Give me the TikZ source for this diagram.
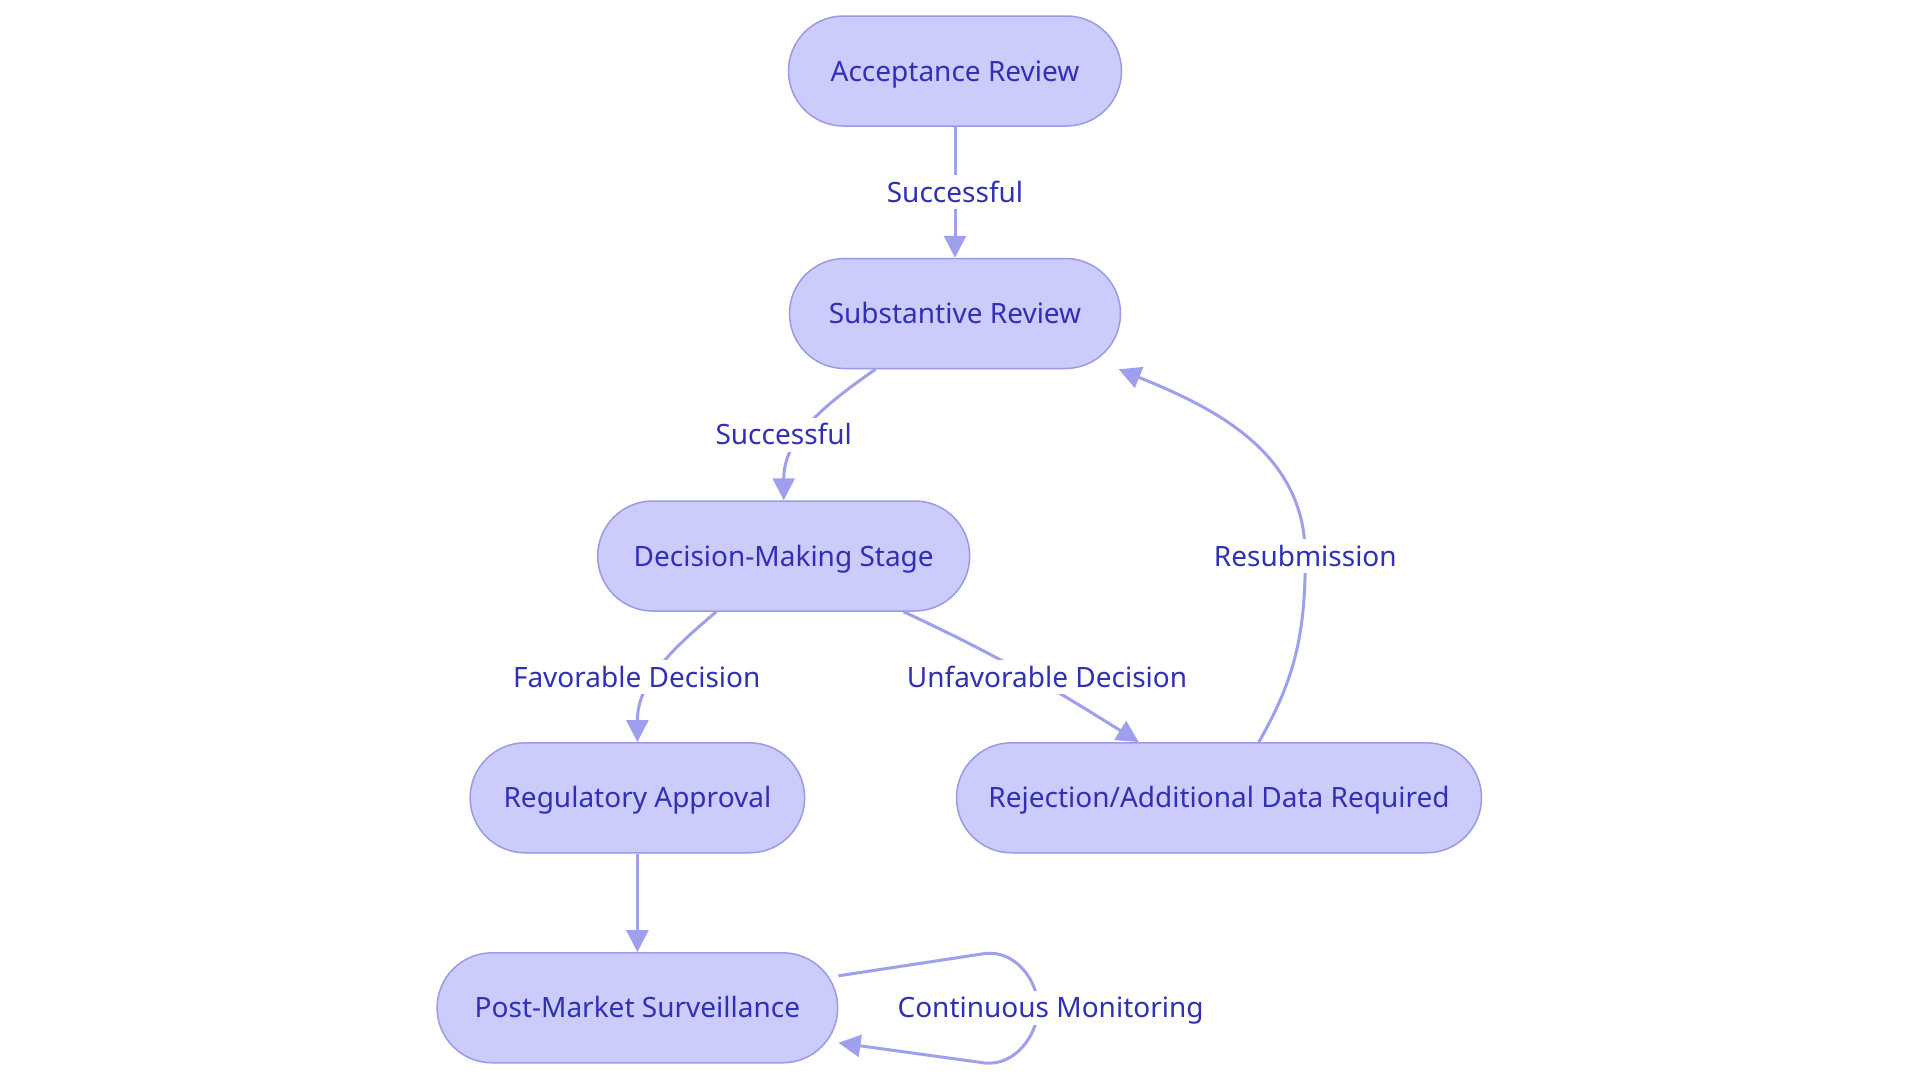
\documentclass[tikz,border=0pt]{standalone}
\usepackage{fontspec}
\setmainfont{Noto Sans}
\usetikzlibrary{arrows.meta,calc}
\definecolor{nfill}{HTML}{CBCBFC}
\definecolor{nbord}{HTML}{9A9AE6}
\definecolor{ntext}{HTML}{3030B4}
\definecolor{eline}{HTML}{9EA0EE}
\tikzset{
  stage/.style={draw=nbord, line width=1.5pt, fill=nfill, text=ntext,
    rounded corners=55pt, minimum height=110pt, inner sep=0pt,
    text height=20pt, text depth=0pt,
    font=\fontsize{28}{34}\selectfont},
  flow/.style={draw=eline, line width=3pt, -{Triangle[length=22pt,width=22pt]}},
  lbl/.style={fill=white, text=ntext, inner xsep=2pt, inner ysep=7pt,
    text height=20pt, text depth=0pt,
    font=\fontsize{28}{34}\selectfont}
}
\begin{document}
\begin{tikzpicture}[x=1pt,y=-1pt]
\useasboundingbox[fill=white] (0,0) rectangle (1920,1080);
\node[stage, minimum width=333pt] (acc) at (955,71) {Acceptance Review};
\node[stage, minimum width=331pt] (sub) at (955,313.5) {Substantive Review};
\node[stage, minimum width=372pt] (dec) at (783.7,556) {Decision-Making Stage};
\node[stage, minimum width=334.5pt] (reg) at (637.4,797.8) {Regulatory Approval};
\node[stage, minimum width=525pt] (rej) at (1219,797.8) {Rejection/Additional Data Required};
\node[stage, minimum width=400.6pt] (post) at (637.4,1007.8) {Post-Market Surveillance};

\draw[flow] (acc) -- (sub);
\draw[flow] ([xshift=-79.5pt]sub.south) to[out=-145,in=90] (dec.north);
\draw[flow] ([xshift=-67.4pt]dec.south) to[out=-140,in=90] (reg.north);
\draw[flow] ([xshift=120pt]dec.south) to[out=-25,in=148] ([xshift=-80.2pt]rej.north);
\coordinate (rs) at (1305.3,556);
\draw[flow] ([xshift=39.8pt]rej.north) to[out=60,in=-90] (rs) to[out=90,in=-22] ([xshift=-2.5pt]sub.south east);
\draw[flow] (reg) -- (post);
\coordinate (lp) at (1038,1007.8);
\draw[flow] ([yshift=32pt]post.east) -- (985,953.5) .. controls (1015,950) and (1038,980) .. (lp)
  .. controls (1038,1035) and (1015,1066) .. (985,1063) -- ([yshift=-35pt]post.east);

\node[lbl] (l1) at (955,192) {Successful};
\node[lbl] (l2) at (783.7,434.7) {Successful};
\node[lbl] (l3) at (636.7,677) {Favorable Decision};
\node[lbl] (l4) at (1047,677) {Unfavorable Decision};
\node[lbl] (l5) at (rs) {Resubmission};
\node[lbl] (l6) at (1050.6,1007.8) {Continuous Monitoring};
\end{tikzpicture}
\end{document}
